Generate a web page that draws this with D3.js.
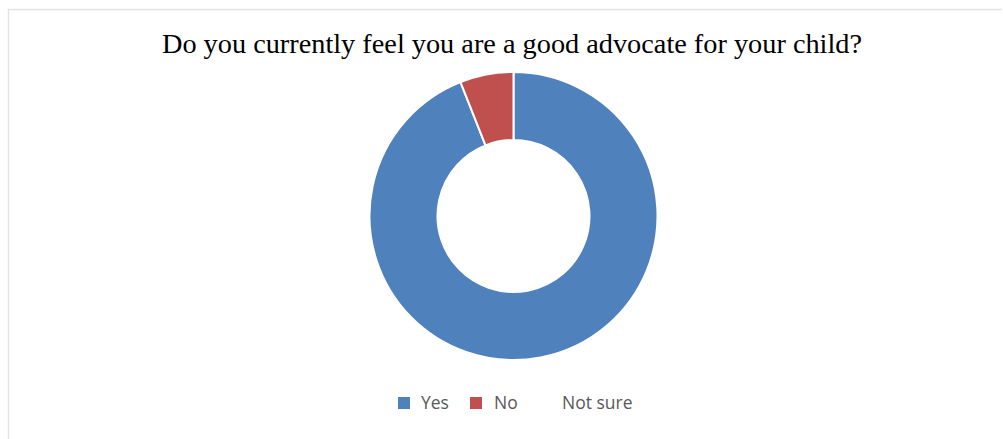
<!DOCTYPE html>
<html>
<head>
<meta charset="utf-8">
<script src="https://cdn.jsdelivr.net/npm/d3@7"></script>
<style>
  html, body { margin: 0; padding: 0; background: #fff; }
  svg { display: block; }
</style>
</head>
<body>
<svg id="chart" width="1003" height="439"></svg>
<script>
// Survey answers (percent of respondents)
const categories = ["Yes", "No", "Not sure"];
const values = [94, 6, 0];
const colors = ["#4f81bd", "#c0504d", "none"];
const title = "Do you currently feel you are a good advocate for your child?";

const svg = d3.select("#chart");
const W = 1003, H = 439;

// Chart area frame
svg.append("path")
  .attr("d", `M8.5,${H} V9.5 H1002`)
  .attr("fill", "none")
  .attr("stroke", "#e3e3e3")
  .attr("stroke-width", 1.5);

svg.append("text")
  .attr("x", 512)
  .attr("y", 53)
  .attr("text-anchor", "middle")
  .attr("font-family", "'Liberation Serif', 'Times New Roman', serif")
  .attr("font-size", 28.3)
  .attr("fill", "#000")
  .text(title);

const cx = 513.5, cy = 216, rOuter = 144, rInner = 76;

const pie = d3.pie().sort(null).value(d => d.v);
const arc = d3.arc().innerRadius(rInner).outerRadius(rOuter);
const data = categories.map((c, i) => ({ c, v: values[i], col: colors[i] }));

svg.append("g")
  .attr("transform", `translate(${cx},${cy})`)
  .selectAll("path")
  .data(pie(data).filter(d => d.data.v > 0))
  .join("path")
  .attr("d", arc)
  .attr("fill", d => d.data.col)
  .attr("stroke", "#fff")
  .attr("stroke-width", 2)
  .attr("stroke-linejoin", "round");

// Legend
const legend = svg.append("g")
  .attr("font-family", "'Open Sans', 'Liberation Sans', sans-serif")
  .attr("font-size", 17.5)
  .attr("fill", "#595959");

const legendX = [398, 470, 541];
const textX = [421, 494, 562];
categories.forEach((c, i) => {
  if (colors[i] !== "none") {
    legend.append("rect")
      .attr("x", legendX[i]).attr("y", 397)
      .attr("width", 12).attr("height", 12)
      .attr("fill", colors[i]);
  }
  legend.append("text")
    .attr("x", textX[i]).attr("y", 409)
    .text(c);
});
</script>
</body>
</html>
